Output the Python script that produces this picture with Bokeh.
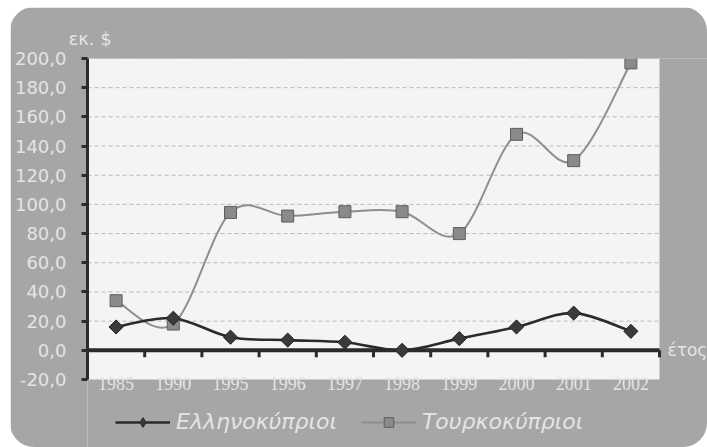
import math
from bokeh.plotting import figure
from bokeh.models import (Range1d, FixedTicker, Label, Legend, LegendItem, BoxAnnotation, Title)
from bokeh.embed import file_html
from bokeh.resources import INLINE

# ---- data ----
years = ["1985", "1990", "1995", "1996", "1997", "1998", "1999", "2000", "2001", "2002"]
greek_cypriots = [16.0, 22.0, 9.0, 7.0, 5.5, 0.0, 8.0, 16.0, 25.5, 13.0]
turkish_cypriots = [34.0, 18.0, 94.5, 92.0, 95.0, 95.0, 80.0, 148.0, 130.0, 197.0]
y_ticks = [-20, 0, 20, 40, 60, 80, 100, 120, 140, 160, 180, 200]
series_names = ["Ελληνοκύπριοι", "Τουρκοκύπριοι"]
y_title = "εκ. $"
x_title = "έτος"

CARD = "#a6a6a6"
PLOT = "#f4f4f4"
LABEL = "#e4e4e4"
DARK = "#2b2b2b"
GREYLINE = "#8e8e8e"
FONT = "DejaVu Sans"

n = len(years)
y_min, y_max = y_ticks[0], y_ticks[-1]
xc = [i + 0.5 for i in range(n)]
x_bounds = [i + 1 for i in range(n)]
grid_vals = [t for t in y_ticks if t > 0]

# layout geometry (pixels)
W, H = 697, 440
LEFT, TOP = 77, 51
PLOT_W, PLOT_H = 572, 321
px_x = PLOT_W / n
px_y = PLOT_H / (y_max - y_min)
x_end = (W - LEFT) / px_x
y_start = y_min - (H - TOP - PLOT_H) / px_y


def bezier_parts(xs, ys):
    out = {k: [] for k in ["x0", "y0", "x1", "y1", "cx0", "cy0", "cx1", "cy1"]}
    m = len(xs)
    for i in range(m - 1):
        pm = max(i - 1, 0)
        pp = min(i + 2, m - 1)
        out["x0"].append(xs[i]); out["y0"].append(ys[i])
        out["x1"].append(xs[i + 1]); out["y1"].append(ys[i + 1])
        out["cx0"].append(xs[i] + (xs[i + 1] - xs[pm]) / 6.0)
        out["cy0"].append(ys[i] + (ys[i + 1] - ys[pm]) / 6.0)
        out["cx1"].append(xs[i + 1] - (xs[pp] - xs[i]) / 6.0)
        out["cy1"].append(ys[i + 1] - (ys[pp] - ys[i]) / 6.0)
    return out


p = figure(width=W, height=H, x_range=Range1d(0, x_end), y_range=Range1d(y_start, y_max),
           output_backend="svg", toolbar_location=None, x_axis_location=None,
           min_border_left=LEFT, min_border_right=0, min_border_top=TOP, min_border_bottom=0)
p.margin = (7, 0, 0, 10)
p.styles = {"border-radius": "24px", "overflow": "hidden"}
p.background_fill_color = CARD
p.border_fill_color = CARD
p.outline_line_color = None
p.grid.visible = False

# white plotting area
p.add_layout(BoxAnnotation(left=0, right=n, bottom=y_min, top=y_max, fill_color=PLOT,
                           fill_alpha=1, line_color=None, level="image"))

# y axis
ya = p.yaxis[0]
ya.bounds = (y_min, y_max)
ya.ticker = FixedTicker(ticks=y_ticks)
ya.major_label_overrides = {t: f"{t:.1f}".replace(".", ",") for t in y_ticks}
ya.axis_line_width = 3
ya.axis_line_color = DARK
ya.major_tick_line_color = DARK
ya.major_tick_line_width = 3
ya.major_tick_out = 6
ya.major_tick_in = 0
ya.minor_tick_line_color = None
ya.major_label_standoff = 15
ya.major_label_text_color = LABEL
ya.major_label_text_font = FONT
ya.major_label_text_font_size = "18px"

# dashed grid lines within the plotting area
p.segment(x0=[0] * len(grid_vals), x1=[n] * len(grid_vals), y0=grid_vals, y1=grid_vals,
          line_color="#b9b9b9", line_dash="4 3", line_width=1)

# x axis line at zero, ticks at category boundaries
p.segment(x0=[0], x1=[n], y0=[0], y1=[0], line_color=DARK, line_width=4)
p.segment(x0=x_bounds, y0=[0] * n, x1=x_bounds, y1=[-7 / px_y] * n, line_color=DARK, line_width=3)

# category labels
p.text(x=xc, y=[y_min - 4 / px_y] * n, text=years, text_align="center", text_baseline="middle",
       text_color=LABEL, text_font=FONT, text_font_size="18px")

# curves
tb = bezier_parts(xc, turkish_cypriots)
p.bezier(line_color=GREYLINE, line_width=2, **tb)
gb = bezier_parts(xc, greek_cypriots)
p.bezier(line_color=DARK, line_width=2.6, **gb)

ts = p.scatter(x=xc, y=turkish_cypriots, marker="square", size=12,
               fill_color="#8a8a8a", line_color="#5e5e5e", line_width=1)
gs = p.scatter(x=xc, y=greek_cypriots, marker="square", angle=math.pi / 4, size=10,
               fill_color="#3a3a3a", line_color="#222222", line_width=1)

# legend proxies (single NaN point, nothing drawn in the plot)
nan = float("nan")
tl = p.line(x=[nan], y=[nan], line_color=GREYLINE, line_width=2)
gl = p.line(x=[nan], y=[nan], line_color=DARK, line_width=2.6)
tsl = p.scatter(x=[nan], y=[nan], marker="square", size=12,
                fill_color="#8a8a8a", line_color="#5e5e5e", line_width=1)
gsl = p.scatter(x=[nan], y=[nan], marker="diamond", size=14,
                fill_color="#3a3a3a", line_color="#222222", line_width=1)

legend = Legend(items=[LegendItem(label=series_names[0], renderers=[gl, gsl]),
                       LegendItem(label=series_names[1], renderers=[tl, tsl])],
                orientation="horizontal", location=(28, 13),
                background_fill_alpha=0, border_line_color=None,
                label_text_font=FONT, label_text_font_style="italic",
                label_text_color=LABEL, label_text_font_size="22px",
                glyph_width=55, glyph_height=24, spacing=24, padding=0, margin=0,
                label_standoff=6)
p.add_layout(legend)

p.add_layout(Title(text=y_title, align="left", offset=-19, text_color=LABEL, text_font=FONT,
                   text_font_size="18px", text_font_style="normal", standoff=19), "above")
p.add_layout(Label(x=n + 8 / px_x, y=0, text=x_title, text_color=LABEL, text_font=FONT,
                   text_font_size="17px", text_baseline="middle", text_align="left"))

open("out.html", "w").write(file_html(p, INLINE))
